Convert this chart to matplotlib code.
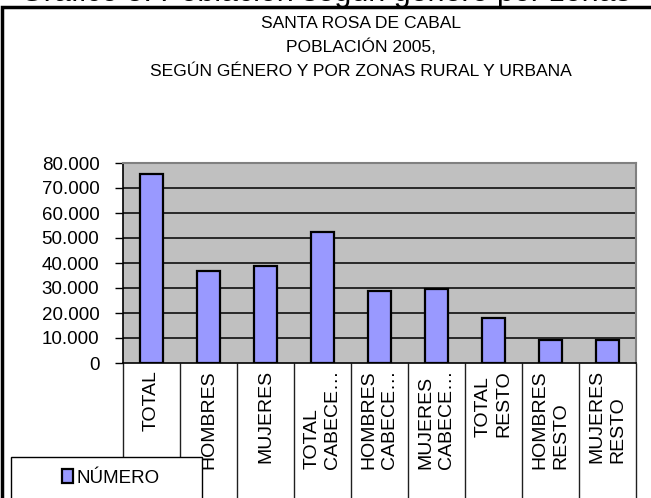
import matplotlib
matplotlib.use("Agg")
import matplotlib.pyplot as plt
from matplotlib.patches import Rectangle, Patch
from matplotlib.ticker import FuncFormatter, FixedLocator

plt.rcParams['font.family'] = ['Liberation Sans', 'DejaVu Sans']

categories = ["TOTAL", "HOMBRES", "MUJERES", "TOTAL\nCABECE…", "HOMBRES\nCABECE…",
              "MUJERES\nCABECE…", "TOTAL\nRESTO", "HOMBRES\nRESTO", "MUJERES\nRESTO"]
values = [75600, 36900, 38700, 52500, 28800, 29700, 17900, 9200, 9200]
yticks = [0, 10000, 20000, 30000, 40000, 50000, 60000, 70000, 80000]
title_lines = ["SANTA ROSA DE CABAL", "POBLACIÓN 2005,", "SEGÚN GÉNERO Y POR ZONAS RURAL Y URBANA"]
series_name = "NÚMERO"

W, H = 651, 498
fig = plt.figure(figsize=(W / 100, H / 100), dpi=100)

def fx(px):
    return px / W

def fy(py):
    return 1 - py / H

# clipped text from the page above the chart
fig.text(fx(20), fy(1.0), "Gráfico 5. Población según género por zonas", fontsize=22,
         ha='left', va='baseline', color='black', zorder=0)

# outer chart frame
frame = Rectangle((fx(1.5), fy(520)), fx(700), (520 - 7) / H, transform=fig.transFigure,
                  facecolor='white', edgecolor='black', lw=2.5, zorder=0.1)
fig.patches.append(frame)

# title
for i, line in enumerate(title_lines):
    fig.text(fx(361), fy(23 + 24 * i), line, fontsize=12.6, ha='center', va='center', zorder=2)

ax = fig.add_axes([fx(123), fy(363), fx(513), 200 / H])
ax.set_zorder(1)
ax.set_facecolor('#C0C0C0')
x = list(range(len(categories)))
ax.bar(x, values, width=0.42, color='#9999FF', edgecolor='black', linewidth=1.6, zorder=3)

ax.set_ylim(0, 80000)
ax.set_xlim(-0.5, len(categories) - 0.5)
ax.set_yticks(yticks)
ax.yaxis.set_major_formatter(FuncFormatter(lambda v, p: f"{int(v):,}".replace(",", ".")))
ax.tick_params(axis='y', direction='out', length=6, width=1, pad=11, labelsize=13.5, color='black')
for yv in yticks[1:-1]:
    ax.axhline(yv, color='black', lw=1.1, zorder=2)

# category axis: long separator ticks and labels
ax.xaxis.set_major_locator(FixedLocator([i - 0.5 for i in range(len(categories) + 1)]))
ax.xaxis.set_major_formatter(FuncFormatter(lambda v, p: ""))
ax.xaxis.set_minor_locator(FixedLocator(x))
ax.set_xticklabels(categories, minor=True)
ax.tick_params(axis='x', which='major', direction='out', length=110, width=1, color='#202020')
ax.tick_params(axis='x', which='minor', length=0, pad=5, labelsize=14)
for lab in ax.get_xticklabels(minor=True):
    lab.set_rotation(90)
    lab.set_va('top')
    lab.set_ha('center')
    lab.set_multialignment('left')
    lab.set_linespacing(1.3)

for s in ['top', 'right']:
    ax.spines[s].set_color('#808080')
    ax.spines[s].set_linewidth(1.5)
for s in ['left', 'bottom']:
    ax.spines[s].set_color('black')
    ax.spines[s].set_linewidth(1.2)

# legend box
lbox = Rectangle((fx(11), fy(520)), fx(191), (520 - 457) / H, transform=fig.transFigure,
                 facecolor='white', edgecolor='black', lw=1, zorder=5)
fig.patches.append(lbox)
leg = fig.legend(handles=[Patch(facecolor='#9999FF', edgecolor='black', linewidth=1.6)],
                 labels=[series_name], loc='center left', bbox_to_anchor=(fx(62), fy(478)),
                 frameon=False, fontsize=13.5, handlelength=0.6, handleheight=0.7,
                 handletextpad=0.15, borderpad=0, borderaxespad=0)
leg.set_zorder(6)

fig.savefig("out.png", dpi=100)
